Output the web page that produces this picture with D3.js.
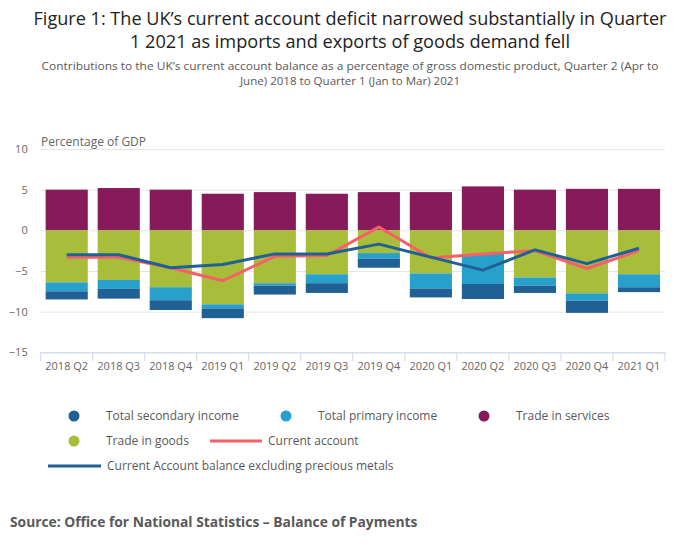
<!DOCTYPE html>
<html>
<head>
<meta charset="utf-8">
<script src="https://cdn.jsdelivr.net/npm/d3@7"></script>
<style>
  body { margin: 0; background: #fff; font-family: "Open Sans", sans-serif; }
</style>
</head>
<body>
<div id="chart"></div>
<script>
(function(){

    //chart data, percentage of GDP
    var quarters = ["2018 Q2", "2018 Q3", "2018 Q4", "2019 Q1", "2019 Q2", "2019 Q3",
                    "2019 Q4", "2020 Q1", "2020 Q2", "2020 Q3", "2020 Q4", "2021 Q1"];
    var tradeServices   = [5.0, 5.2, 5.0, 4.5, 4.7, 4.5, 4.7, 4.7, 5.4, 5.0, 5.1, 5.1];
    var tradeGoods      = [-6.4, -6.1, -7.0, -9.1, -6.5, -5.4, -2.8, -5.3, -2.9, -5.8, -7.75, -5.4];
    var primaryIncome   = [-1.1, -1.1, -1.6, -0.5, -0.3, -1.1, -0.7, -1.85, -3.7, -1.0, -0.9, -1.6];
    var secondaryIncome = [-1.0, -1.2, -1.2, -1.2, -1.1, -1.2, -1.1, -1.1, -1.85, -0.9, -1.5, -0.6];
    var currentAccount  = [-3.3, -3.3, -4.6, -6.2, -3.2, -3.1, 0.4, -3.4, -2.9, -2.5, -4.7, -2.5];
    var exPreciousMetals = [-3.0, -3.0, -4.6, -4.2, -2.9, -2.9, -1.7, -3.3, -4.9, -2.4, -4.1, -2.2];
    var yTicks = [10, 5, 0, -5, -10, -15];

    var width = 700, height = 549;
    var plotLeft = 40.7, plotRight = 665, plotTop = 149, plotBottom = 352.3;

    var svg = d3.select("#chart").append("svg")
        .attr("width", width)
        .attr("height", height);

    //titles (reference font is narrower, so squeeze to its width)
    var titleLines = [
        {t: "Figure 1: The UK\u2019s current account deficit narrowed substantially in Quarter", y: 25, w: 633},
        {t: "1 2021 as imports and exports of goods demand fell", y: 48, w: 440}
    ];
    titleLines.forEach(function(l){
        svg.append("text")
            .attr("x", 350).attr("y", l.y)
            .attr("text-anchor", "middle")
            .attr("textLength", l.w)
            .attr("lengthAdjust", "spacingAndGlyphs")
            .style("font-size", "18px")
            .style("fill", "#222")
            .text(l.t);
    });

    var subLines = [
        {t: "Contributions to the UK\u2019s current account balance as a percentage of gross domestic product, Quarter 2 (Apr to", y: 70, w: 617},
        {t: "June) 2018 to Quarter 1 (Jan to Mar) 2021", y: 85, w: 220}
    ];
    subLines.forEach(function(l){
        svg.append("text")
            .attr("x", 350).attr("y", l.y)
            .attr("text-anchor", "middle")
            .attr("textLength", l.w)
            .attr("lengthAdjust", "spacingAndGlyphs")
            .style("font-size", "11.5px")
            .style("fill", "#595959")
            .text(l.t);
    });

    //scales
    var x = d3.scaleBand().domain(quarters).range([plotLeft, plotRight]).paddingInner(0.19).paddingOuter(0.095);
    var xBand = d3.scaleBand().domain(quarters).range([plotLeft, plotRight]);
    var y = d3.scaleLinear().domain([-15, 10]).range([plotBottom, plotTop]);

    //grid + y labels
    var yAxis = svg.append("g")
        .attr("transform", "translate(" + plotLeft + ",0)")
        .call(d3.axisLeft(y).tickValues(yTicks).tickSize(-(plotRight - plotLeft)).tickPadding(13));
    yAxis.select(".domain").remove();
    yAxis.selectAll(".tick line").attr("stroke", "#e6e6e6");
    yAxis.selectAll(".tick text")
        .style("font-family", "Open Sans, sans-serif")
        .style("font-size", "11px")
        .style("fill", "#666");

    svg.append("text")
        .attr("x", 41).attr("y", 146)
        .style("font-size", "12px")
        .style("fill", "#666")
        .text("Percentage of GDP");

    //stacked bars
    var series = [
        {name: "Trade in services", values: tradeServices, color: "#871a5b"},
        {name: "Trade in goods", values: tradeGoods, color: "#a8bd3a"},
        {name: "Total primary income", values: primaryIncome, color: "#27a0cc"},
        {name: "Total secondary income", values: secondaryIncome, color: "#206095"}
    ];
    var stacks = [];
    quarters.forEach(function(q, i){
        var pos = 0, neg = 0;
        series.forEach(function(s){
            var v = s.values[i];
            if (v >= 0) { stacks.push({q: q, y0: pos, y1: pos + v, color: s.color}); pos += v; }
            else { stacks.push({q: q, y0: neg + v, y1: neg, color: s.color}); neg += v; }
        });
    });
    svg.append("g").selectAll("rect")
        .data(stacks)
        .enter()
        .append("rect")
        .attr("x", function(d){ return x(d.q); })
        .attr("width", x.bandwidth())
        .attr("y", function(d){ return y(d.y1); })
        .attr("height", function(d){ return y(d.y0) - y(d.y1); })
        .attr("fill", function(d){ return d.color; });

    //x axis
    var xAxis = svg.append("g")
        .attr("transform", "translate(0," + plotBottom + ")")
        .call(d3.axisBottom(xBand).tickSize(0).tickPadding(10));
    xAxis.select(".domain").attr("stroke", "#ccd6eb");
    xAxis.selectAll(".tick text")
        .style("font-family", "Open Sans, sans-serif")
        .style("font-size", "11px")
        .style("fill", "#666");
    xAxis.selectAll(".tick line").remove();
    svg.append("g").selectAll("line")
        .data(quarters.concat(["end"]))
        .enter()
        .append("line")
        .attr("x1", function(d){ return d == "end" ? plotRight : xBand(d); })
        .attr("x2", function(d){ return d == "end" ? plotRight : xBand(d); })
        .attr("y1", plotBottom)
        .attr("y2", plotBottom + 9)
        .attr("stroke", "#ccd6eb");

    //lines
    var line = function(vals){
        return d3.line()
            .x(function(d, i){ return xBand(quarters[i]) + xBand.bandwidth() / 2; })
            .y(function(d){ return y(d); })(vals);
    };
    svg.append("path")
        .attr("d", line(currentAccount))
        .attr("fill", "none")
        .attr("stroke", "#f66068")
        .attr("stroke-width", 3)
        .attr("stroke-linejoin", "round");
    svg.append("path")
        .attr("d", line(exPreciousMetals))
        .attr("fill", "none")
        .attr("stroke", "#206095")
        .attr("stroke-width", 3)
        .attr("stroke-linejoin", "round");

    //legend
    var legend = svg.append("g")
        .style("font-size", "12px")
        .style("fill", "#595959");
    var dots = [
        {name: "Total secondary income", color: "#206095", cx: 74, cy: 416},
        {name: "Total primary income", color: "#27a0cc", cx: 286, cy: 416},
        {name: "Trade in services", color: "#871a5b", cx: 484, cy: 416},
        {name: "Trade in goods", color: "#a8bd3a", cx: 74, cy: 441}
    ];
    dots.forEach(function(d){
        legend.append("circle").attr("cx", d.cx).attr("cy", d.cy).attr("r", 5.5).attr("fill", d.color);
        legend.append("text").attr("x", d.cx + 32).attr("y", d.cy + 4).text(d.name);
    });
    var lineKeys = [
        {name: "Current account", color: "#f66068", x1: 210, x2: 262, yy: 441},
        {name: "Current Account balance excluding precious metals", color: "#206095", x1: 48, x2: 101, yy: 466}
    ];
    lineKeys.forEach(function(d){
        legend.append("line").attr("x1", d.x1).attr("x2", d.x2).attr("y1", d.yy).attr("y2", d.yy)
            .attr("stroke", d.color).attr("stroke-width", 3);
        legend.append("text").attr("x", d.x2 + 6).attr("y", d.yy + 4).text(d.name);
    });

    //source
    svg.append("text")
        .attr("x", 10).attr("y", 527)
        .style("font-size", "13.8px")
        .style("font-weight", "bold")
        .style("fill", "#595959")
        .text("Source: Office for National Statistics \u2013 Balance of Payments");

})();
</script>
</body>
</html>
